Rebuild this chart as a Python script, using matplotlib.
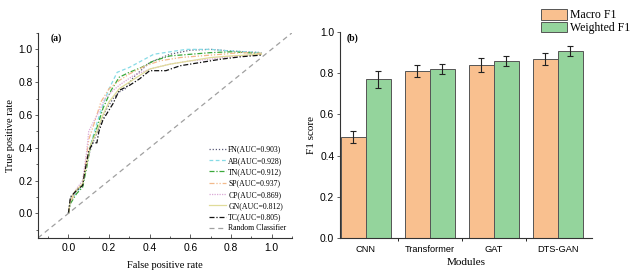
import numpy as np
import matplotlib.pyplot as plt
from matplotlib.ticker import MultipleLocator

plt.rcParams['font.family'] = ['Liberation Serif', 'DejaVu Serif']

# ---------------------------------------------------------------------
# (a) ROC curves

roc_names = ['FN(AUC=0.903)', 'AB(AUC=0.928)', 'TN(AUC=0.912)', 'SP(AUC=0.937)',
             'CP(AUC=0.869)', 'GN(AUC=0.812)', 'TC(AUC=0.805)']

fn_fpr = [0, 0.01, 0.04, 0.07, 0.09, 0.12, 0.15, 0.18, 0.22, 0.25, 0.28, 0.32, 0.40, 0.50, 0.60, 0.70, 0.80, 0.95]
fn_tpr = [0, 0.09, 0.14, 0.18, 0.32, 0.43, 0.52, 0.62, 0.70, 0.74, 0.76, 0.83, 0.92, 0.97, 0.995, 1.0, 0.99, 0.98]

ab_fpr = [0, 0.01, 0.04, 0.07, 0.09, 0.11, 0.14, 0.17, 0.20, 0.24, 0.30, 0.36, 0.42, 0.50, 0.58, 0.70, 0.80, 0.95]
ab_tpr = [0, 0.07, 0.13, 0.17, 0.30, 0.42, 0.55, 0.66, 0.76, 0.86, 0.89, 0.93, 0.97, 0.985, 1.0, 1.0, 0.99, 0.98]

tn_fpr = [0, 0.01, 0.04, 0.07, 0.09, 0.11, 0.14, 0.17, 0.21, 0.25, 0.30, 0.36, 0.42, 0.50, 0.60, 0.70, 0.80, 0.95]
tn_tpr = [0, 0.06, 0.12, 0.16, 0.28, 0.42, 0.52, 0.64, 0.75, 0.83, 0.86, 0.89, 0.93, 0.96, 0.97, 0.98, 0.985, 0.975]

sp_fpr = [0, 0.01, 0.04, 0.07, 0.09, 0.10, 0.13, 0.16, 0.20, 0.25, 0.30, 0.38, 0.45, 0.55, 0.65, 0.75, 0.85, 0.95]
sp_tpr = [0, 0.07, 0.14, 0.18, 0.35, 0.45, 0.56, 0.68, 0.76, 0.81, 0.85, 0.90, 0.93, 0.95, 0.96, 0.97, 0.98, 0.975]

cp_fpr = [0, 0.01, 0.04, 0.07, 0.09, 0.10, 0.12, 0.15, 0.18, 0.22, 0.26, 0.32, 0.40, 0.50, 0.60, 0.70, 0.80, 0.95]
cp_tpr = [0, 0.08, 0.15, 0.20, 0.38, 0.50, 0.55, 0.62, 0.70, 0.75, 0.79, 0.84, 0.88, 0.91, 0.93, 0.94, 0.955, 0.97]

gn_fpr = [0, 0.01, 0.03, 0.07, 0.09, 0.11, 0.14, 0.17, 0.20, 0.25, 0.30, 0.40, 0.50, 0.60, 0.70, 0.80, 0.95]
gn_tpr = [0, 0.08, 0.13, 0.18, 0.30, 0.42, 0.50, 0.60, 0.68, 0.76, 0.80, 0.88, 0.91, 0.93, 0.95, 0.96, 0.97]

tc_fpr = [0, 0.005, 0.01, 0.04, 0.07, 0.08, 0.10, 0.12, 0.14, 0.15, 0.17, 0.20, 0.22, 0.25, 0.30, 0.35, 0.40, 0.48, 0.55, 0.65, 0.75, 0.85, 0.95]
tc_tpr = [0, 0.05, 0.10, 0.14, 0.17, 0.25, 0.38, 0.43, 0.43, 0.50, 0.57, 0.63, 0.67, 0.75, 0.78, 0.82, 0.87, 0.87, 0.90, 0.92, 0.94, 0.955, 0.965]

rand_x = [-0.15, 1.1]

# ---------------------------------------------------------------------
# (b) F1 bars

modules = ['CNN', 'Transformer', 'GAT', 'DTS-GAN']
macro_f1 = [0.49, 0.81, 0.84, 0.87]
macro_err = [0.03, 0.03, 0.035, 0.03]
weighted_f1 = [0.77, 0.82, 0.86, 0.91]
weighted_err = [0.04, 0.025, 0.025, 0.025]

# ---------------------------------------------------------------------

fig = plt.figure(figsize=(6.33, 2.77), dpi=100)
ax1 = fig.add_axes([0.060, 0.141, 0.401, 0.740])
ax2 = fig.add_axes([0.537, 0.141, 0.398, 0.743])

tick_font = {'family': 'Liberation Sans', 'size': 7.4}
cat_font = {'family': 'Liberation Sans', 'size': 6.7}

curves = [(fn_fpr, fn_tpr, '#5a5a78', (0, (1, 1.5)), 0.9),
          (ab_fpr, ab_tpr, '#86dbe6', (0, (3, 2)), 0.9),
          (tn_fpr, tn_tpr, '#3aa83a', (0, (4, 1.5, 1, 1.5)), 0.9),
          (sp_fpr, sp_tpr, '#f2b98a', (0, (4, 1.5, 1, 1.5, 1, 1.5)), 0.9),
          (cp_fpr, cp_tpr, '#dba8d6', (0, (1, 1)), 0.9),
          (gn_fpr, gn_tpr, '#e0dc9a', '-', 0.9),
          (tc_fpr, tc_tpr, '#111111', (0, (4, 1.5, 1, 1.5)), 0.9)]

for (fx, fy, col, ls, lw), name in zip(curves, roc_names):
    ax1.plot(fx, fy, color=col, linestyle=ls, linewidth=lw, label=name)
ax1.plot(rand_x, rand_x, color='#a0a0a0', linestyle=(0, (4, 3)), linewidth=0.9, label='Random Classifier')

ax1.set_xlim(-0.15, 1.1)
ax1.set_ylim(-0.15, 1.1)
ax1.xaxis.set_minor_locator(MultipleLocator(0.1))
ax1.yaxis.set_minor_locator(MultipleLocator(0.1))
ax1.set_xticks(np.arange(0, 1.01, 0.2))
ax1.set_yticks(np.arange(0, 1.01, 0.2))
ax1.set_xticklabels(['%.1f' % v for v in np.arange(0, 1.01, 0.2)], fontdict=tick_font)
ax1.set_yticklabels(['%.1f' % v for v in np.arange(0, 1.01, 0.2)], fontdict=tick_font)
ax1.tick_params(axis='x', which='both', direction='in', length=3, width=0.6, color='#444444')
ax1.tick_params(axis='x', which='minor', length=1.8)
ax1.tick_params(axis='y', which='both', direction='out', length=2.5, width=0.6, color='#444444', pad=1.5)
ax1.tick_params(axis='y', which='minor', length=1.5)
for s in ['top', 'right']:
    ax1.spines[s].set_visible(False)
for s in ['left', 'bottom']:
    ax1.spines[s].set_linewidth(0.8)
    ax1.spines[s].set_color('#333333')
ax1.set_xlabel('False positive rate', fontsize=7.5, labelpad=6)
ax1.set_ylabel('True positive rate', fontsize=7.5, labelpad=2)
ax1.text(-0.09, 1.07, '(a)', fontsize=7, fontweight='bold', va='center')
ax1.legend(loc='lower right', frameon=False, fontsize=5.6, handlelength=2.2,
           handletextpad=0.3, labelspacing=0.42, borderaxespad=0.3,
           bbox_to_anchor=(1.0, 0.0))

# ---------------------------------------------------------------------

x = np.arange(len(modules))
w = 0.39
ax2.bar(x - w / 2, macro_f1, w, yerr=macro_err, color='#f9c08f', edgecolor='#555555',
        linewidth=0.7, capsize=2.5, error_kw={'elinewidth': 0.8, 'capthick': 0.8, 'ecolor': '#222222'},
        label='Macro F1')
ax2.bar(x + w / 2, weighted_f1, w, yerr=weighted_err, color='#94d49c', edgecolor='#555555',
        linewidth=0.7, capsize=2.5, error_kw={'elinewidth': 0.8, 'capthick': 0.8, 'ecolor': '#222222'},
        label='Weighted F1')
ax2.set_xlim(-0.405, 3.53)
ax2.set_ylim(0, 1.0)
ax2.set_xticks(x)
ax2.set_xticklabels(modules, fontdict=cat_font)
ax2.set_xticks(x[:-1] + 0.5, minor=True)
ax2.set_yticks(np.arange(0, 1.01, 0.2))
ax2.set_yticklabels(['%.1f' % v for v in np.arange(0, 1.01, 0.2)], fontdict=tick_font)
ax2.tick_params(axis='x', which='major', length=0, pad=5)
ax2.tick_params(axis='x', which='minor', direction='out', length=2, width=0.6)
ax2.tick_params(axis='y', direction='out', length=2.5, width=0.6, color='#444444', pad=1.5)
for s in ['top', 'right']:
    ax2.spines[s].set_visible(False)
for s in ['left', 'bottom']:
    ax2.spines[s].set_linewidth(0.8)
    ax2.spines[s].set_color('#333333')
ax2.set_xlabel('Modules', fontsize=8, labelpad=3)
ax2.set_ylabel('F1 score', fontsize=8, labelpad=3)
ax2.text(0.027, 0.97, '(b)', transform=ax2.get_yaxis_transform(), fontsize=7,
         fontweight='bold', va='center')
ax2.legend(loc='upper right', bbox_to_anchor=(0.998, 0.972),
           bbox_transform=fig.transFigure, fontsize=8.5, frameon=False,
           handlelength=2.2, handleheight=1.0, handletextpad=0.3, labelspacing=0.05,
           borderaxespad=0.0, borderpad=0.1)

fig.savefig('out.png', dpi=100)
